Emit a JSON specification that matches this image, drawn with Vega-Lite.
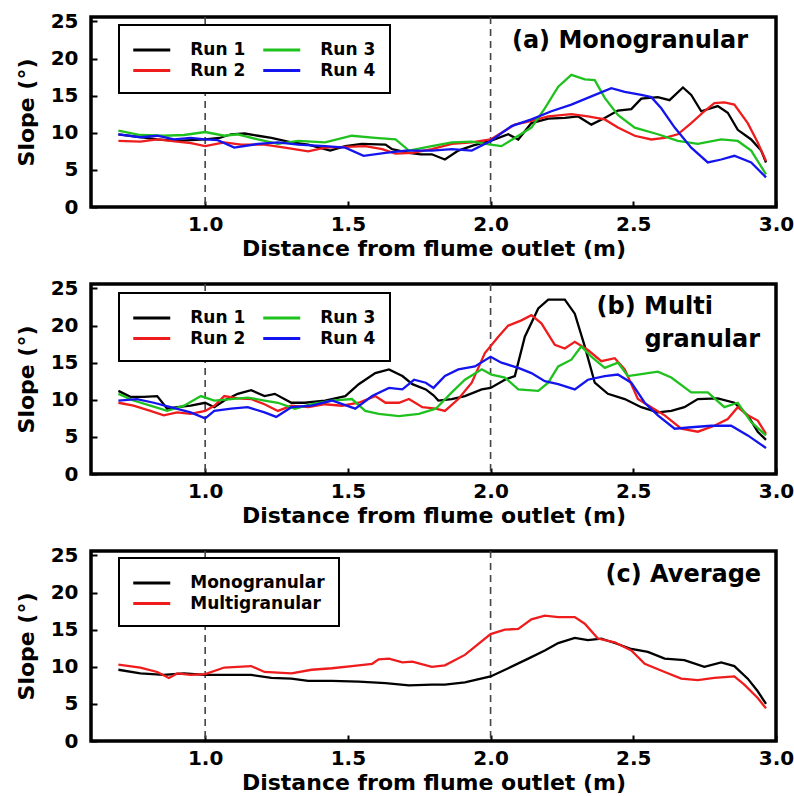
{
  "$schema": "https://vega.github.io/schema/vega-lite/v6.json",
  "padding": {"left": 13, "top": 9, "right": 0, "bottom": 0},
  "background": "white",
  "config": {
    "font": "DejaVu Sans",
    "view": {"stroke": "black", "strokeWidth": 3.5},
    "axis": {"domain": false, "grid": false, "tickSize": -6, "tickWidth": 2, "tickColor": "black", "labelFont": "DejaVu Sans", "labelFontWeight": "bold", "labelFontSize": 20, "labelColor": "black", "labelFlush": false, "labelOverlap": false, "titleFont": "DejaVu Sans", "titleFontWeight": "bold", "titleFontSize": 22, "titleColor": "black"},
    "axisX": {"labelPadding": 13, "titlePadding": 4},
    "axisY": {"labelPadding": 19, "titlePadding": 12, "labelOverlap": false, "labelBound": false},
    "legend": {"orient": "none", "legendX": 28, "symbolType": "M-2,0H2", "symbolSize": 342, "symbolStrokeWidth": 3, "symbolOffset": 7.75, "labelFont": "DejaVu Sans", "labelFontWeight": "bold", "labelFontSize": 17, "labelColor": "black", "labelOffset": 27.5, "columnPadding": 11, "rowPadding": 1.5, "padding": 14, "strokeColor": "black", "strokeWidth": 2, "fillColor": "white", "title": null}
  },
  "datasets": {
    "refs": [{"x": 1.0}, {"x": 2.0}],
    "labels": [
      {"p": "a", "t": "(a) Monogranular", "x": 2.902, "y": 22.3},
      {"p": "b", "t": "(b) Multi", "x": 2.779, "y": 22.5},
      {"p": "b", "t": "granular", "x": 2.944, "y": 18.1},
      {"p": "c", "t": "(c) Average", "x": 2.948, "y": 22.3}
    ],
    "curves": [
      {"p":"a","s":"Run 1","x":0.696,"y":9.8},{"p":"a","s":"Run 1","x":0.773,"y":9.4},{"p":"a","s":"Run 1","x":0.832,"y":9.1},{"p":"a","s":"Run 1","x":0.902,"y":8.9},{"p":"a","s":"Run 1","x":1.0,"y":9.1},{"p":"a","s":"Run 1","x":1.05,"y":9.3},{"p":"a","s":"Run 1","x":1.091,"y":9.8},{"p":"a","s":"Run 1","x":1.138,"y":9.9},{"p":"a","s":"Run 1","x":1.185,"y":9.6},{"p":"a","s":"Run 1","x":1.232,"y":9.3},{"p":"a","s":"Run 1","x":1.302,"y":8.7},{"p":"a","s":"Run 1","x":1.361,"y":8.4},{"p":"a","s":"Run 1","x":1.4,"y":8.0},{"p":"a","s":"Run 1","x":1.438,"y":7.6},{"p":"a","s":"Run 1","x":1.491,"y":8.2},{"p":"a","s":"Run 1","x":1.549,"y":8.5},{"p":"a","s":"Run 1","x":1.632,"y":8.4},{"p":"a","s":"Run 1","x":1.655,"y":7.8},{"p":"a","s":"Run 1","x":1.714,"y":7.3},{"p":"a","s":"Run 1","x":1.755,"y":7.1},{"p":"a","s":"Run 1","x":1.794,"y":7.1},{"p":"a","s":"Run 1","x":1.84,"y":6.4},{"p":"a","s":"Run 1","x":1.887,"y":7.6},{"p":"a","s":"Run 1","x":1.94,"y":8.3},{"p":"a","s":"Run 1","x":2.0,"y":8.9},{"p":"a","s":"Run 1","x":2.062,"y":9.8},{"p":"a","s":"Run 1","x":2.097,"y":9.1},{"p":"a","s":"Run 1","x":2.143,"y":11.3},{"p":"a","s":"Run 1","x":2.202,"y":11.9},{"p":"a","s":"Run 1","x":2.26,"y":12.0},{"p":"a","s":"Run 1","x":2.307,"y":12.2},{"p":"a","s":"Run 1","x":2.353,"y":11.1},{"p":"a","s":"Run 1","x":2.4,"y":12.0},{"p":"a","s":"Run 1","x":2.446,"y":13.0},{"p":"a","s":"Run 1","x":2.493,"y":13.2},{"p":"a","s":"Run 1","x":2.528,"y":14.6},{"p":"a","s":"Run 1","x":2.586,"y":14.8},{"p":"a","s":"Run 1","x":2.627,"y":14.4},{"p":"a","s":"Run 1","x":2.674,"y":16.1},{"p":"a","s":"Run 1","x":2.703,"y":15.1},{"p":"a","s":"Run 1","x":2.738,"y":12.9},{"p":"a","s":"Run 1","x":2.796,"y":13.6},{"p":"a","s":"Run 1","x":2.831,"y":12.7},{"p":"a","s":"Run 1","x":2.866,"y":10.4},{"p":"a","s":"Run 1","x":2.913,"y":9.1},{"p":"a","s":"Run 1","x":2.948,"y":7.6},{"p":"a","s":"Run 1","x":2.965,"y":6.0},
      {"p":"a","s":"Run 2","x":0.696,"y":8.9},{"p":"a","s":"Run 2","x":0.773,"y":8.8},{"p":"a","s":"Run 2","x":0.832,"y":9.1},{"p":"a","s":"Run 2","x":0.902,"y":8.8},{"p":"a","s":"Run 2","x":0.95,"y":8.6},{"p":"a","s":"Run 2","x":1.0,"y":8.2},{"p":"a","s":"Run 2","x":1.067,"y":8.7},{"p":"a","s":"Run 2","x":1.126,"y":8.4},{"p":"a","s":"Run 2","x":1.208,"y":8.4},{"p":"a","s":"Run 2","x":1.279,"y":8.0},{"p":"a","s":"Run 2","x":1.361,"y":7.5},{"p":"a","s":"Run 2","x":1.42,"y":8.0},{"p":"a","s":"Run 2","x":1.491,"y":8.1},{"p":"a","s":"Run 2","x":1.561,"y":8.2},{"p":"a","s":"Run 2","x":1.62,"y":7.8},{"p":"a","s":"Run 2","x":1.667,"y":7.2},{"p":"a","s":"Run 2","x":1.726,"y":7.3},{"p":"a","s":"Run 2","x":1.794,"y":7.8},{"p":"a","s":"Run 2","x":1.864,"y":8.5},{"p":"a","s":"Run 2","x":1.934,"y":8.7},{"p":"a","s":"Run 2","x":2.0,"y":9.1},{"p":"a","s":"Run 2","x":2.085,"y":11.1},{"p":"a","s":"Run 2","x":2.143,"y":11.6},{"p":"a","s":"Run 2","x":2.202,"y":12.2},{"p":"a","s":"Run 2","x":2.283,"y":12.5},{"p":"a","s":"Run 2","x":2.341,"y":12.2},{"p":"a","s":"Run 2","x":2.4,"y":11.8},{"p":"a","s":"Run 2","x":2.446,"y":10.7},{"p":"a","s":"Run 2","x":2.505,"y":9.6},{"p":"a","s":"Run 2","x":2.563,"y":9.1},{"p":"a","s":"Run 2","x":2.61,"y":9.3},{"p":"a","s":"Run 2","x":2.656,"y":9.8},{"p":"a","s":"Run 2","x":2.703,"y":11.3},{"p":"a","s":"Run 2","x":2.749,"y":12.9},{"p":"a","s":"Run 2","x":2.784,"y":14.0},{"p":"a","s":"Run 2","x":2.819,"y":14.1},{"p":"a","s":"Run 2","x":2.854,"y":13.8},{"p":"a","s":"Run 2","x":2.901,"y":11.3},{"p":"a","s":"Run 2","x":2.936,"y":8.7},{"p":"a","s":"Run 2","x":2.965,"y":6.2},
      {"p":"a","s":"Run 3","x":0.696,"y":10.3},{"p":"a","s":"Run 3","x":0.773,"y":9.7},{"p":"a","s":"Run 3","x":0.855,"y":9.6},{"p":"a","s":"Run 3","x":0.926,"y":9.7},{"p":"a","s":"Run 3","x":1.0,"y":10.1},{"p":"a","s":"Run 3","x":1.067,"y":9.6},{"p":"a","s":"Run 3","x":1.114,"y":9.8},{"p":"a","s":"Run 3","x":1.185,"y":9.1},{"p":"a","s":"Run 3","x":1.255,"y":8.5},{"p":"a","s":"Run 3","x":1.326,"y":8.9},{"p":"a","s":"Run 3","x":1.42,"y":8.7},{"p":"a","s":"Run 3","x":1.514,"y":9.6},{"p":"a","s":"Run 3","x":1.596,"y":9.3},{"p":"a","s":"Run 3","x":1.667,"y":9.1},{"p":"a","s":"Run 3","x":1.714,"y":7.6},{"p":"a","s":"Run 3","x":1.794,"y":8.2},{"p":"a","s":"Run 3","x":1.864,"y":8.7},{"p":"a","s":"Run 3","x":1.934,"y":8.8},{"p":"a","s":"Run 3","x":2.0,"y":8.4},{"p":"a","s":"Run 3","x":2.038,"y":8.2},{"p":"a","s":"Run 3","x":2.097,"y":9.6},{"p":"a","s":"Run 3","x":2.143,"y":10.7},{"p":"a","s":"Run 3","x":2.19,"y":13.3},{"p":"a","s":"Run 3","x":2.237,"y":16.2},{"p":"a","s":"Run 3","x":2.283,"y":17.8},{"p":"a","s":"Run 3","x":2.33,"y":17.2},{"p":"a","s":"Run 3","x":2.365,"y":17.1},{"p":"a","s":"Run 3","x":2.4,"y":14.7},{"p":"a","s":"Run 3","x":2.446,"y":12.4},{"p":"a","s":"Run 3","x":2.505,"y":10.7},{"p":"a","s":"Run 3","x":2.586,"y":9.8},{"p":"a","s":"Run 3","x":2.656,"y":8.9},{"p":"a","s":"Run 3","x":2.726,"y":8.5},{"p":"a","s":"Run 3","x":2.808,"y":9.1},{"p":"a","s":"Run 3","x":2.866,"y":8.9},{"p":"a","s":"Run 3","x":2.913,"y":7.6},{"p":"a","s":"Run 3","x":2.965,"y":4.4},
      {"p":"a","s":"Run 4","x":0.696,"y":9.8},{"p":"a","s":"Run 4","x":0.773,"y":9.4},{"p":"a","s":"Run 4","x":0.832,"y":9.6},{"p":"a","s":"Run 4","x":0.891,"y":9.1},{"p":"a","s":"Run 4","x":0.949,"y":9.3},{"p":"a","s":"Run 4","x":1.0,"y":9.1},{"p":"a","s":"Run 4","x":1.044,"y":9.0},{"p":"a","s":"Run 4","x":1.102,"y":8.0},{"p":"a","s":"Run 4","x":1.185,"y":8.5},{"p":"a","s":"Run 4","x":1.255,"y":8.7},{"p":"a","s":"Run 4","x":1.326,"y":8.4},{"p":"a","s":"Run 4","x":1.42,"y":8.2},{"p":"a","s":"Run 4","x":1.491,"y":8.0},{"p":"a","s":"Run 4","x":1.555,"y":6.9},{"p":"a","s":"Run 4","x":1.632,"y":7.3},{"p":"a","s":"Run 4","x":1.702,"y":7.6},{"p":"a","s":"Run 4","x":1.794,"y":7.6},{"p":"a","s":"Run 4","x":1.864,"y":7.8},{"p":"a","s":"Run 4","x":1.934,"y":7.6},{"p":"a","s":"Run 4","x":2.0,"y":8.9},{"p":"a","s":"Run 4","x":2.073,"y":10.9},{"p":"a","s":"Run 4","x":2.143,"y":11.8},{"p":"a","s":"Run 4","x":2.213,"y":12.9},{"p":"a","s":"Run 4","x":2.283,"y":13.8},{"p":"a","s":"Run 4","x":2.353,"y":14.9},{"p":"a","s":"Run 4","x":2.423,"y":16.0},{"p":"a","s":"Run 4","x":2.47,"y":15.5},{"p":"a","s":"Run 4","x":2.528,"y":15.1},{"p":"a","s":"Run 4","x":2.563,"y":14.8},{"p":"a","s":"Run 4","x":2.598,"y":13.3},{"p":"a","s":"Run 4","x":2.645,"y":10.7},{"p":"a","s":"Run 4","x":2.703,"y":8.0},{"p":"a","s":"Run 4","x":2.761,"y":6.0},{"p":"a","s":"Run 4","x":2.808,"y":6.4},{"p":"a","s":"Run 4","x":2.854,"y":6.9},{"p":"a","s":"Run 4","x":2.913,"y":6.0},{"p":"a","s":"Run 4","x":2.965,"y":4.0},
      {"p":"b","s":"Run 1","x":0.696,"y":11.2},{"p":"b","s":"Run 1","x":0.738,"y":10.4},{"p":"b","s":"Run 1","x":0.785,"y":10.4},{"p":"b","s":"Run 1","x":0.832,"y":10.5},{"p":"b","s":"Run 1","x":0.867,"y":8.8},{"p":"b","s":"Run 1","x":0.902,"y":9.0},{"p":"b","s":"Run 1","x":0.949,"y":9.2},{"p":"b","s":"Run 1","x":1.0,"y":9.6},{"p":"b","s":"Run 1","x":1.032,"y":9.0},{"p":"b","s":"Run 1","x":1.067,"y":9.9},{"p":"b","s":"Run 1","x":1.114,"y":10.8},{"p":"b","s":"Run 1","x":1.161,"y":11.3},{"p":"b","s":"Run 1","x":1.208,"y":10.5},{"p":"b","s":"Run 1","x":1.244,"y":10.8},{"p":"b","s":"Run 1","x":1.302,"y":9.6},{"p":"b","s":"Run 1","x":1.349,"y":9.6},{"p":"b","s":"Run 1","x":1.42,"y":9.9},{"p":"b","s":"Run 1","x":1.491,"y":10.5},{"p":"b","s":"Run 1","x":1.538,"y":12.1},{"p":"b","s":"Run 1","x":1.596,"y":13.6},{"p":"b","s":"Run 1","x":1.644,"y":14.1},{"p":"b","s":"Run 1","x":1.691,"y":13.2},{"p":"b","s":"Run 1","x":1.726,"y":12.1},{"p":"b","s":"Run 1","x":1.773,"y":11.4},{"p":"b","s":"Run 1","x":1.8,"y":10.6},{"p":"b","s":"Run 1","x":1.817,"y":9.9},{"p":"b","s":"Run 1","x":1.864,"y":10.1},{"p":"b","s":"Run 1","x":1.91,"y":10.5},{"p":"b","s":"Run 1","x":1.969,"y":11.4},{"p":"b","s":"Run 1","x":2.0,"y":11.6},{"p":"b","s":"Run 1","x":2.05,"y":12.7},{"p":"b","s":"Run 1","x":2.085,"y":13.2},{"p":"b","s":"Run 1","x":2.12,"y":18.5},{"p":"b","s":"Run 1","x":2.167,"y":22.3},{"p":"b","s":"Run 1","x":2.202,"y":23.5},{"p":"b","s":"Run 1","x":2.26,"y":23.5},{"p":"b","s":"Run 1","x":2.295,"y":21.6},{"p":"b","s":"Run 1","x":2.33,"y":17.2},{"p":"b","s":"Run 1","x":2.365,"y":12.3},{"p":"b","s":"Run 1","x":2.411,"y":10.8},{"p":"b","s":"Run 1","x":2.47,"y":10.1},{"p":"b","s":"Run 1","x":2.528,"y":9.0},{"p":"b","s":"Run 1","x":2.586,"y":8.3},{"p":"b","s":"Run 1","x":2.633,"y":8.5},{"p":"b","s":"Run 1","x":2.679,"y":9.0},{"p":"b","s":"Run 1","x":2.726,"y":10.1},{"p":"b","s":"Run 1","x":2.796,"y":10.2},{"p":"b","s":"Run 1","x":2.854,"y":9.6},{"p":"b","s":"Run 1","x":2.901,"y":7.9},{"p":"b","s":"Run 1","x":2.936,"y":5.7},{"p":"b","s":"Run 1","x":2.965,"y":4.6},
      {"p":"b","s":"Run 2","x":0.696,"y":9.6},{"p":"b","s":"Run 2","x":0.749,"y":9.2},{"p":"b","s":"Run 2","x":0.808,"y":8.5},{"p":"b","s":"Run 2","x":0.855,"y":7.9},{"p":"b","s":"Run 2","x":0.902,"y":8.3},{"p":"b","s":"Run 2","x":0.949,"y":8.1},{"p":"b","s":"Run 2","x":1.0,"y":8.5},{"p":"b","s":"Run 2","x":1.032,"y":9.2},{"p":"b","s":"Run 2","x":1.067,"y":10.5},{"p":"b","s":"Run 2","x":1.114,"y":10.2},{"p":"b","s":"Run 2","x":1.161,"y":10.1},{"p":"b","s":"Run 2","x":1.208,"y":9.4},{"p":"b","s":"Run 2","x":1.255,"y":8.5},{"p":"b","s":"Run 2","x":1.302,"y":9.2},{"p":"b","s":"Run 2","x":1.361,"y":9.0},{"p":"b","s":"Run 2","x":1.42,"y":9.4},{"p":"b","s":"Run 2","x":1.479,"y":9.2},{"p":"b","s":"Run 2","x":1.538,"y":9.6},{"p":"b","s":"Run 2","x":1.596,"y":10.5},{"p":"b","s":"Run 2","x":1.632,"y":9.6},{"p":"b","s":"Run 2","x":1.679,"y":9.6},{"p":"b","s":"Run 2","x":1.714,"y":10.1},{"p":"b","s":"Run 2","x":1.761,"y":9.0},{"p":"b","s":"Run 2","x":1.808,"y":8.8},{"p":"b","s":"Run 2","x":1.84,"y":8.5},{"p":"b","s":"Run 2","x":1.887,"y":10.1},{"p":"b","s":"Run 2","x":1.934,"y":12.3},{"p":"b","s":"Run 2","x":1.98,"y":16.3},{"p":"b","s":"Run 2","x":2.027,"y":18.5},{"p":"b","s":"Run 2","x":2.062,"y":20.0},{"p":"b","s":"Run 2","x":2.108,"y":20.7},{"p":"b","s":"Run 2","x":2.143,"y":21.4},{"p":"b","s":"Run 2","x":2.178,"y":20.3},{"p":"b","s":"Run 2","x":2.225,"y":17.4},{"p":"b","s":"Run 2","x":2.26,"y":16.9},{"p":"b","s":"Run 2","x":2.295,"y":17.8},{"p":"b","s":"Run 2","x":2.341,"y":16.7},{"p":"b","s":"Run 2","x":2.388,"y":15.2},{"p":"b","s":"Run 2","x":2.435,"y":15.6},{"p":"b","s":"Run 2","x":2.47,"y":14.1},{"p":"b","s":"Run 2","x":2.516,"y":10.1},{"p":"b","s":"Run 2","x":2.563,"y":9.0},{"p":"b","s":"Run 2","x":2.61,"y":7.9},{"p":"b","s":"Run 2","x":2.668,"y":6.1},{"p":"b","s":"Run 2","x":2.726,"y":5.7},{"p":"b","s":"Run 2","x":2.784,"y":6.5},{"p":"b","s":"Run 2","x":2.831,"y":7.4},{"p":"b","s":"Run 2","x":2.866,"y":9.0},{"p":"b","s":"Run 2","x":2.901,"y":7.9},{"p":"b","s":"Run 2","x":2.936,"y":7.2},{"p":"b","s":"Run 2","x":2.965,"y":5.4},
      {"p":"b","s":"Run 3","x":0.696,"y":10.8},{"p":"b","s":"Run 3","x":0.749,"y":9.9},{"p":"b","s":"Run 3","x":0.808,"y":9.2},{"p":"b","s":"Run 3","x":0.867,"y":8.5},{"p":"b","s":"Run 3","x":0.926,"y":9.2},{"p":"b","s":"Run 3","x":0.985,"y":10.5},{"p":"b","s":"Run 3","x":1.032,"y":9.9},{"p":"b","s":"Run 3","x":1.091,"y":10.1},{"p":"b","s":"Run 3","x":1.149,"y":10.3},{"p":"b","s":"Run 3","x":1.208,"y":9.9},{"p":"b","s":"Run 3","x":1.255,"y":9.6},{"p":"b","s":"Run 3","x":1.314,"y":8.8},{"p":"b","s":"Run 3","x":1.373,"y":9.4},{"p":"b","s":"Run 3","x":1.444,"y":9.9},{"p":"b","s":"Run 3","x":1.514,"y":10.1},{"p":"b","s":"Run 3","x":1.561,"y":8.5},{"p":"b","s":"Run 3","x":1.608,"y":8.1},{"p":"b","s":"Run 3","x":1.679,"y":7.8},{"p":"b","s":"Run 3","x":1.749,"y":8.1},{"p":"b","s":"Run 3","x":1.808,"y":8.8},{"p":"b","s":"Run 3","x":1.864,"y":11.0},{"p":"b","s":"Run 3","x":1.91,"y":12.7},{"p":"b","s":"Run 3","x":1.969,"y":14.1},{"p":"b","s":"Run 3","x":2.003,"y":13.4},{"p":"b","s":"Run 3","x":2.05,"y":13.0},{"p":"b","s":"Run 3","x":2.097,"y":11.4},{"p":"b","s":"Run 3","x":2.167,"y":11.2},{"p":"b","s":"Run 3","x":2.202,"y":12.3},{"p":"b","s":"Run 3","x":2.237,"y":14.5},{"p":"b","s":"Run 3","x":2.283,"y":15.4},{"p":"b","s":"Run 3","x":2.318,"y":17.2},{"p":"b","s":"Run 3","x":2.353,"y":15.8},{"p":"b","s":"Run 3","x":2.4,"y":14.3},{"p":"b","s":"Run 3","x":2.446,"y":15.0},{"p":"b","s":"Run 3","x":2.481,"y":13.2},{"p":"b","s":"Run 3","x":2.516,"y":13.4},{"p":"b","s":"Run 3","x":2.586,"y":13.8},{"p":"b","s":"Run 3","x":2.633,"y":13.0},{"p":"b","s":"Run 3","x":2.703,"y":11.0},{"p":"b","s":"Run 3","x":2.761,"y":11.0},{"p":"b","s":"Run 3","x":2.819,"y":9.0},{"p":"b","s":"Run 3","x":2.866,"y":9.6},{"p":"b","s":"Run 3","x":2.913,"y":7.0},{"p":"b","s":"Run 3","x":2.965,"y":5.2},
      {"p":"b","s":"Run 4","x":0.696,"y":9.9},{"p":"b","s":"Run 4","x":0.761,"y":10.1},{"p":"b","s":"Run 4","x":0.82,"y":9.6},{"p":"b","s":"Run 4","x":0.879,"y":9.0},{"p":"b","s":"Run 4","x":0.949,"y":8.3},{"p":"b","s":"Run 4","x":1.0,"y":7.5},{"p":"b","s":"Run 4","x":1.032,"y":8.5},{"p":"b","s":"Run 4","x":1.091,"y":8.8},{"p":"b","s":"Run 4","x":1.149,"y":9.0},{"p":"b","s":"Run 4","x":1.208,"y":8.3},{"p":"b","s":"Run 4","x":1.249,"y":7.7},{"p":"b","s":"Run 4","x":1.302,"y":9.0},{"p":"b","s":"Run 4","x":1.373,"y":9.2},{"p":"b","s":"Run 4","x":1.444,"y":9.9},{"p":"b","s":"Run 4","x":1.526,"y":8.8},{"p":"b","s":"Run 4","x":1.585,"y":10.5},{"p":"b","s":"Run 4","x":1.644,"y":11.6},{"p":"b","s":"Run 4","x":1.691,"y":11.4},{"p":"b","s":"Run 4","x":1.732,"y":12.7},{"p":"b","s":"Run 4","x":1.773,"y":12.3},{"p":"b","s":"Run 4","x":1.8,"y":11.6},{"p":"b","s":"Run 4","x":1.84,"y":13.2},{"p":"b","s":"Run 4","x":1.887,"y":14.1},{"p":"b","s":"Run 4","x":1.945,"y":14.5},{"p":"b","s":"Run 4","x":2.0,"y":15.8},{"p":"b","s":"Run 4","x":2.038,"y":15.0},{"p":"b","s":"Run 4","x":2.097,"y":14.3},{"p":"b","s":"Run 4","x":2.143,"y":13.6},{"p":"b","s":"Run 4","x":2.19,"y":12.5},{"p":"b","s":"Run 4","x":2.237,"y":12.1},{"p":"b","s":"Run 4","x":2.295,"y":11.4},{"p":"b","s":"Run 4","x":2.341,"y":12.7},{"p":"b","s":"Run 4","x":2.4,"y":13.2},{"p":"b","s":"Run 4","x":2.446,"y":13.4},{"p":"b","s":"Run 4","x":2.493,"y":12.3},{"p":"b","s":"Run 4","x":2.54,"y":9.6},{"p":"b","s":"Run 4","x":2.586,"y":7.9},{"p":"b","s":"Run 4","x":2.645,"y":6.1},{"p":"b","s":"Run 4","x":2.703,"y":6.3},{"p":"b","s":"Run 4","x":2.773,"y":6.5},{"p":"b","s":"Run 4","x":2.843,"y":6.5},{"p":"b","s":"Run 4","x":2.901,"y":5.2},{"p":"b","s":"Run 4","x":2.965,"y":3.5},
      {"p":"c","s":"Monogranular","x":0.696,"y":9.6},{"p":"c","s":"Monogranular","x":0.773,"y":9.1},{"p":"c","s":"Monogranular","x":0.855,"y":8.9},{"p":"c","s":"Monogranular","x":0.926,"y":9.1},{"p":"c","s":"Monogranular","x":1.0,"y":8.9},{"p":"c","s":"Monogranular","x":1.091,"y":8.9},{"p":"c","s":"Monogranular","x":1.161,"y":8.9},{"p":"c","s":"Monogranular","x":1.232,"y":8.5},{"p":"c","s":"Monogranular","x":1.302,"y":8.4},{"p":"c","s":"Monogranular","x":1.361,"y":8.1},{"p":"c","s":"Monogranular","x":1.444,"y":8.1},{"p":"c","s":"Monogranular","x":1.538,"y":8.0},{"p":"c","s":"Monogranular","x":1.632,"y":7.8},{"p":"c","s":"Monogranular","x":1.714,"y":7.5},{"p":"c","s":"Monogranular","x":1.794,"y":7.6},{"p":"c","s":"Monogranular","x":1.84,"y":7.6},{"p":"c","s":"Monogranular","x":1.91,"y":7.9},{"p":"c","s":"Monogranular","x":2.0,"y":8.7},{"p":"c","s":"Monogranular","x":2.062,"y":9.8},{"p":"c","s":"Monogranular","x":2.132,"y":11.1},{"p":"c","s":"Monogranular","x":2.19,"y":12.2},{"p":"c","s":"Monogranular","x":2.237,"y":13.2},{"p":"c","s":"Monogranular","x":2.295,"y":13.9},{"p":"c","s":"Monogranular","x":2.341,"y":13.6},{"p":"c","s":"Monogranular","x":2.388,"y":13.8},{"p":"c","s":"Monogranular","x":2.435,"y":13.2},{"p":"c","s":"Monogranular","x":2.493,"y":12.4},{"p":"c","s":"Monogranular","x":2.551,"y":12.0},{"p":"c","s":"Monogranular","x":2.61,"y":11.1},{"p":"c","s":"Monogranular","x":2.679,"y":10.9},{"p":"c","s":"Monogranular","x":2.749,"y":10.0},{"p":"c","s":"Monogranular","x":2.808,"y":10.6},{"p":"c","s":"Monogranular","x":2.854,"y":10.1},{"p":"c","s":"Monogranular","x":2.901,"y":8.4},{"p":"c","s":"Monogranular","x":2.936,"y":6.7},{"p":"c","s":"Monogranular","x":2.965,"y":5.0},
      {"p":"c","s":"Multigranular","x":0.696,"y":10.3},{"p":"c","s":"Multigranular","x":0.773,"y":9.9},{"p":"c","s":"Multigranular","x":0.832,"y":9.3},{"p":"c","s":"Multigranular","x":0.873,"y":8.5},{"p":"c","s":"Multigranular","x":0.902,"y":9.1},{"p":"c","s":"Multigranular","x":0.949,"y":8.9},{"p":"c","s":"Multigranular","x":1.0,"y":9.0},{"p":"c","s":"Multigranular","x":1.067,"y":9.9},{"p":"c","s":"Multigranular","x":1.161,"y":10.1},{"p":"c","s":"Multigranular","x":1.208,"y":9.3},{"p":"c","s":"Multigranular","x":1.302,"y":9.1},{"p":"c","s":"Multigranular","x":1.373,"y":9.6},{"p":"c","s":"Multigranular","x":1.444,"y":9.8},{"p":"c","s":"Multigranular","x":1.514,"y":10.1},{"p":"c","s":"Multigranular","x":1.585,"y":10.4},{"p":"c","s":"Multigranular","x":1.608,"y":11.0},{"p":"c","s":"Multigranular","x":1.644,"y":11.1},{"p":"c","s":"Multigranular","x":1.691,"y":10.6},{"p":"c","s":"Multigranular","x":1.726,"y":10.7},{"p":"c","s":"Multigranular","x":1.794,"y":10.0},{"p":"c","s":"Multigranular","x":1.84,"y":10.2},{"p":"c","s":"Multigranular","x":1.91,"y":11.6},{"p":"c","s":"Multigranular","x":2.0,"y":14.4},{"p":"c","s":"Multigranular","x":2.05,"y":15.0},{"p":"c","s":"Multigranular","x":2.097,"y":15.1},{"p":"c","s":"Multigranular","x":2.143,"y":16.4},{"p":"c","s":"Multigranular","x":2.19,"y":16.9},{"p":"c","s":"Multigranular","x":2.237,"y":16.7},{"p":"c","s":"Multigranular","x":2.295,"y":16.7},{"p":"c","s":"Multigranular","x":2.33,"y":15.8},{"p":"c","s":"Multigranular","x":2.376,"y":13.8},{"p":"c","s":"Multigranular","x":2.435,"y":13.3},{"p":"c","s":"Multigranular","x":2.493,"y":12.2},{"p":"c","s":"Multigranular","x":2.54,"y":10.4},{"p":"c","s":"Multigranular","x":2.61,"y":9.3},{"p":"c","s":"Multigranular","x":2.668,"y":8.4},{"p":"c","s":"Multigranular","x":2.726,"y":8.2},{"p":"c","s":"Multigranular","x":2.784,"y":8.5},{"p":"c","s":"Multigranular","x":2.854,"y":8.7},{"p":"c","s":"Multigranular","x":2.889,"y":7.6},{"p":"c","s":"Multigranular","x":2.936,"y":5.8},{"p":"c","s":"Multigranular","x":2.965,"y":4.4}
    ]
  },
  "spacing": 15,
  "resolve": {"scale": {"color": "independent"}, "legend": {"color": "independent"}},
  "vconcat": [
    {
      "width": 685, "height": 190,
      "encoding": {
        "x": {"field": "x", "type": "quantitative", "scale": {"domain": [0.6, 3.0], "nice": false}, "axis": {"title": "Distance from flume outlet (m)", "values": [1, 1.5, 2, 2.5, 3], "format": ".1f", "labelOverlap": false}},
        "y": {"field": "y", "type": "quantitative", "scale": {"domain": [0, 25.6], "nice": false}, "axis": {"title": "Slope (°)", "values": [0, 5, 10, 15, 20, 25], "format": "d", "labelOverlap": false}}
      },
      "layer": [
        {"data": {"name": "refs"}, "mark": {"type": "rule", "strokeDash": [7, 5], "color": "#444444", "strokeWidth": 1.6},
         "encoding": {"y": null}},
        {"data": {"name": "curves"}, "transform": [{"filter": "datum.p === 'a'"}], "mark": {"type": "line", "strokeWidth": 2.3},
         "encoding": {
           "color": {"field": "s", "type": "nominal", "scale": {"domain": ["Run 1", "Run 2", "Run 3", "Run 4"], "range": ["#000000", "#ee1c1c", "#1fc11f", "#1414ee"]}, "legend": {"columns": 2, "legendY": 8}}
         }},
        {"data": {"name": "labels"}, "transform": [{"filter": "datum.p === 'a'"}], "mark": {"type": "text", "align": "right", "baseline": "middle", "fontSize": 24, "fontWeight": "bold", "font": "DejaVu Sans", "color": "black"},
         "encoding": {"text": {"field": "t"}}}
      ]
    },
    {
      "width": 685, "height": 190,
      "encoding": {
        "x": {"field": "x", "type": "quantitative", "scale": {"domain": [0.6, 3.0], "nice": false}, "axis": {"title": "Distance from flume outlet (m)", "values": [1, 1.5, 2, 2.5, 3], "format": ".1f", "labelOverlap": false}},
        "y": {"field": "y", "type": "quantitative", "scale": {"domain": [0, 25.6], "nice": false}, "axis": {"title": "Slope (°)", "values": [0, 5, 10, 15, 20, 25], "format": "d", "labelOverlap": false}}
      },
      "layer": [
        {"data": {"name": "refs"}, "mark": {"type": "rule", "strokeDash": [7, 5], "color": "#444444", "strokeWidth": 1.6},
         "encoding": {"y": null}},
        {"data": {"name": "curves"}, "transform": [{"filter": "datum.p === 'b'"}], "mark": {"type": "line", "strokeWidth": 2.3},
         "encoding": {
           "color": {"field": "s", "type": "nominal", "scale": {"domain": ["Run 1", "Run 2", "Run 3", "Run 4"], "range": ["#000000", "#ee1c1c", "#1fc11f", "#1414ee"]}, "legend": {"columns": 2, "legendY": 9}}
         }},
        {"data": {"name": "labels"}, "transform": [{"filter": "datum.p === 'b'"}], "mark": {"type": "text", "align": "right", "baseline": "middle", "fontSize": 24, "fontWeight": "bold", "font": "DejaVu Sans", "color": "black"},
         "encoding": {"text": {"field": "t"}}}
      ]
    },
    {
      "width": 685, "height": 190,
      "encoding": {
        "x": {"field": "x", "type": "quantitative", "scale": {"domain": [0.6, 3.0], "nice": false}, "axis": {"title": "Distance from flume outlet (m)", "values": [1, 1.5, 2, 2.5, 3], "format": ".1f", "labelOverlap": false}},
        "y": {"field": "y", "type": "quantitative", "scale": {"domain": [0, 25.6], "nice": false}, "axis": {"title": "Slope (°)", "values": [0, 5, 10, 15, 20, 25], "format": "d", "labelOverlap": false}}
      },
      "layer": [
        {"data": {"name": "refs"}, "mark": {"type": "rule", "strokeDash": [7, 5], "color": "#444444", "strokeWidth": 1.6},
         "encoding": {"y": null}},
        {"data": {"name": "curves"}, "transform": [{"filter": "datum.p === 'c'"}], "mark": {"type": "line", "strokeWidth": 2.3},
         "encoding": {
           "color": {"field": "s", "type": "nominal", "scale": {"domain": ["Monogranular", "Multigranular"], "range": ["#000000", "#ee1c1c"]}, "legend": {"columns": 1, "legendY": 7}}
         }},
        {"data": {"name": "labels"}, "transform": [{"filter": "datum.p === 'c'"}], "mark": {"type": "text", "align": "right", "baseline": "middle", "fontSize": 24, "fontWeight": "bold", "font": "DejaVu Sans", "color": "black"},
         "encoding": {"text": {"field": "t"}}}
      ]
    }
  ]
}
